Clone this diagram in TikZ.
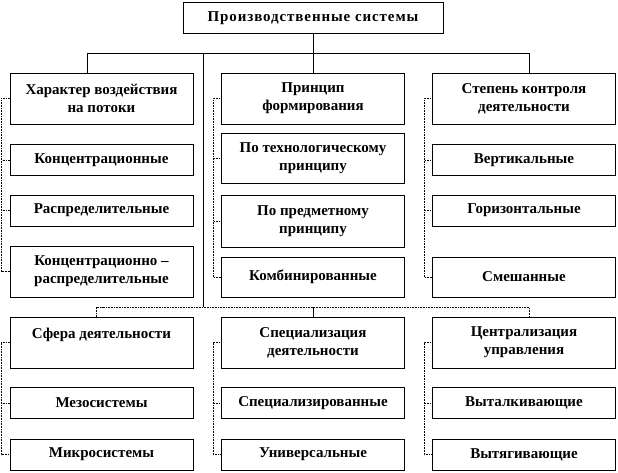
\documentclass[tikz,border=0pt]{standalone}
\usepackage{fontspec}
\setmainfont{Liberation Serif}
\usetikzlibrary{calc}
\tikzset{
	box/.style={draw, line width=.6pt, fill=white, align=center, inner sep=0pt, minimum width=183, font=\fontsize{15}{18}\selectfont\bfseries},
	tall/.style={box, minimum height=51},
	low/.style={box, minimum height=31},
	link/.style={line width=.6pt},
	dots/.style={line width=.6pt, densely dotted}
}
\begin{document}
\begin{tikzpicture}[x=1pt, y=-1pt]
	\useasboundingbox (0,0) rectangle (618,473);
	\node[low, minimum width=260] (top) at (313,18) {\addfontfeature{LetterSpace=6}Производственные системы};
	\node[tall] (A) at (101.5,98.5) {Характер воздействия\\на потоки};
	\node[low] (A1) at (101.5,160) {Концентрационные};
	\node[low] (A2) at (101.5,210.5) {Распределительные};
	\node[tall] (A3) at (101.5,271.5) {Концентрационно –\\распределительные};
	\node[tall] (B) at (313,98.5) {Принцип\\формирования};
	\node[tall, minimum height=50] (B1) at (313,158) {По технологическому\\принципу};
	\node[tall, minimum height=52] (B2) at (313,221) {По предметному\\принципу};
	\node[box, minimum height=40] (B3) at (313,277) {Комбинированные};
	\node[tall] (C) at (524,98.5) {Степень контроля\\деятельности};
	\node[low] (C1) at (524,160) {Вертикальные};
	\node[low] (C2) at (524,210.5) {Горизонтальные};
	\node[box, minimum height=40] (C3) at (524,277) {Смешанные};
	\node[tall] (D) at (101.5,342.5) {Сфера деятельности\\~};
	\node[low] (D1) at (101.5,403) {Мезосистемы};
	\node[low] (D2) at (101.5,454.5) {Микросистемы};
	\node[tall] (E) at (313,342.5) {Специализация\\деятельности};
	\node[low] (E1) at (313,403) {Специализированные};
	\node[low] (E2) at (313,454.5) {Универсальные};
	\node[tall] (F) at (524,342.5) {Централизация\\управления};
	\node[low] (F1) at (524,403) {Выталкивающие};
	\node[low] (F2) at (524,454.5) {Вытягивающие};
	\coordinate (bus) at ($(top.south)!.5!(B.north)$);
	\coordinate (bus2) at ($(A3.south)!.5!(D.north)$);
	\coordinate (hub) at ($(A.east)!.5!(B.west)+(-4,0)$);
	\draw[link] (top) -- (B);
	\draw[link] ([xshift=-14]A.north) |- (bus) -| ([xshift=5]C.north);
	\draw[link] (bus -| hub) -- (bus2 -| hub);
	\draw[dots] ([xshift=-5]D.north) |- (bus2) -| ([xshift=5]F.north);
	\draw[link] (bus2 -| E.north) -- (E.north);
	\foreach \h/\i/\j/\k in {A/A1/A2/A3, B/B1/B2/B3, C/C1/C2/C3}
		\draw[dots] (\h.west) -- ++(-8,0) |- (\k.west) (\i.west) -- ++(-8,0) (\j.west) -- ++(-8,0);
	\foreach \h/\i/\k in {D/D1/D2, E/E1/E2, F/F1/F2}
		\draw[dots] (\h.west) -- ++(-8,0) |- (\k.west) (\i.west) -- ++(-8,0);
\end{tikzpicture}
\end{document}
